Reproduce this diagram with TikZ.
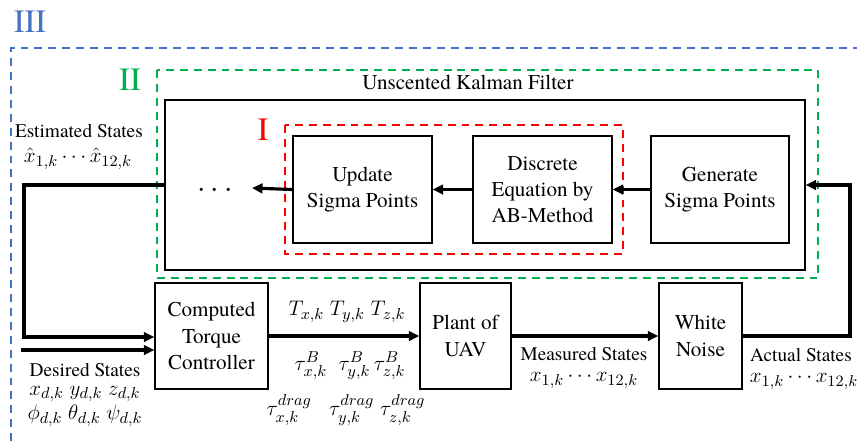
\documentclass[tikz,border=0pt]{standalone}
\usepackage{fontspec}
\setmainfont{TeX Gyre Termes}
\usetikzlibrary{positioning,arrows.meta}
\definecolor{regionblue}{HTML}{4472C4}
\definecolor{regiongreen}{HTML}{00B050}
\definecolor{regionred}{HTML}{FF0000}

\begin{document}
\begin{tikzpicture}[
      x=0.02cm, y=-0.02cm,
      every node/.style={font=\fontsize{11}{13}\selectfont},
      blockbox/.style={
        draw, line width=0.8pt,
        align=center, inner sep=0pt,
        minimum height=2.12cm,
        font=\fontsize{12}{15}\selectfont
      },
      mathlbl/.style={font=\fontsize{13}{15}\selectfont, inner sep=0.5pt},
      flow/.style={line width=1.8pt, -{Triangle[length=6pt,width=5.5pt]}},
      region/.style={line width=1.1pt, dash pattern=on 4.5pt off 3.4pt},
      tag/.style={font=\fontsize{18.5}{19}\selectfont}
    ]
      \useasboundingbox (0,0) rectangle (857,441);

      % regions
      \draw[region, regionblue] (11,441) -- (11,48) -- (857,48);
      \draw[region, regiongreen] (157,70) rectangle (818,278);
      \draw[region, regionred] (285,125) rectangle (623,254);
      \node[tag, text=regionblue] (tagiii) at (30,22) {III};
      \node[tag, text=regiongreen] (tagii) at (130,80) {II};
      \node[tag, text=regionred] (tagi) at (263,130) {I};

      % filter
      \node[draw, line width=0.8pt, inner sep=0pt,
            minimum width=12.8cm, minimum height=3.4cm] (ukf) at (485,185) {};
      \node[font=\fontsize{12}{14}\selectfont] (ukftitle) at (468,82) {Unscented Kalman Filter};
      \node[blockbox, minimum width=2.78cm, minimum height=2.14cm] (upd) at (362.5,189.5) {
        Update\\Sigma Points
      };
      \node[blockbox, minimum width=2.78cm, minimum height=2.14cm] (abm) at (542.5,189.5) {
        Discrete\\Equation by\\AB-Method
      };
      \node[blockbox, minimum width=2.76cm, minimum height=2.14cm] (gen) at (720,189.5) {
        Generate\\Sigma Points
      };
      \node[font=\fontsize{17}{17}\selectfont] (dots) at (215,191) {$\cdots$};
      \coordinate (dotend) at (252,188);

      % loop
      \node[blockbox, minimum width=2.26cm] (ctc) at (211.5,336) {
        Computed\\Torque\\Controller
      };
      \node[blockbox, minimum width=1.82cm] (uav) at (465.5,336) {Plant of\\UAV};
      \node[blockbox, minimum width=1.66cm] (wn) at (700.5,336) {White\\Noise};

      \node (est) at (79,131) {Estimated States};
      \node[mathlbl] (esthat) at (78,159) {$\hat{x}_{1,k}\cdots\hat{x}_{12,k}$};
      \node (des) at (85,370) {Desired States};
      \node[mathlbl] (despos) at (85,394) {$x_{d,k}\ y_{d,k}\ z_{d,k}$};
      \node[mathlbl] (desang) at (85,416) {$\phi_{d,k}\ \theta_{d,k}\ \psi_{d,k}$};
      \node[mathlbl] (torq) at (347,312) {$T_{x,k}\ T_{y,k}\ T_{z,k}$};
      \node[mathlbl] (taub) at (350,366) {$\tau^B_{x,k}\ \ \tau^B_{y,k}\,\tau^B_{z,k}$};
      \node[mathlbl] (taud) at (346,410) {$\tau^{drag}_{x,k}\ \ \ \tau^{drag}_{y,k}\ \tau^{drag}_{z,k}$};
      \node (meas) at (584,354) {Measured States};
      \node[mathlbl] (measx) at (584,380) {$x_{1,k}\cdots x_{12,k}$};
      \node (act) at (801,355) {Actual States};
      \node[mathlbl] (actx) at (804,381) {$x_{1,k}\cdots x_{12,k}$};

      \coordinate (fbleft) at (24,337);
      \coordinate (desin) at (21,350);
      \coordinate (fbright) at (850,336);

      \draw[flow] (gen.west) -- (abm.east);
      \draw[flow] (abm.west) -- (upd.east);
      \draw[flow] (upd.west) -- (dotend);
      \draw[flow] (ukf.west) -| (fbleft) -- (fbleft -| ctc.west);
      \draw[flow] (desin) -- (desin -| ctc.west);
      \draw[flow] (ctc.east) -- (uav.west);
      \draw[flow] (uav.east) -- (wn.west);
      \draw[flow] (wn.east) -| (fbright |- ukf.east) -- (ukf.east);
    \end{tikzpicture}
\end{document}
